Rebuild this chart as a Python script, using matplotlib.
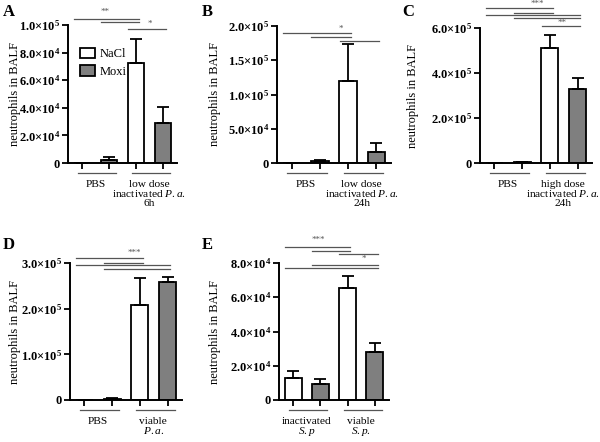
import matplotlib
matplotlib.use('Agg')
import matplotlib.pyplot as plt
from matplotlib.patches import Patch
import numpy as np

plt.rcParams['font.family'] = ['Liberation Serif', 'DejaVu Serif']
plt.rcParams['mathtext.fontset'] = 'custom'
plt.rcParams['mathtext.rm'] = 'Liberation Serif'
plt.rcParams['mathtext.it'] = 'Liberation Serif:italic'
plt.rcParams['mathtext.bf'] = 'Liberation Serif:bold'

# values: [first group, second group]
nacl_A = [0, 72500]
nacl_A_err = [0, 17500]
moxi_A = [2500, 29000]
moxi_A_err = [2000, 11600]

nacl_B = [0, 119700]
nacl_B_err = [0, 54000]
moxi_B = [2500, 16000]
moxi_B_err = [1500, 13200]

nacl_C = [0, 511000]
nacl_C_err = [0, 58000]
moxi_C = [4000, 329000]
moxi_C_err = [2000, 49000]

nacl_D = [0, 208000]
nacl_D_err = [0, 59000]
moxi_D = [2500, 258000]
moxi_D_err = [1500, 11000]

nacl_E = [12800, 65400]
nacl_E_err = [4100, 7000]
moxi_E = [9300, 28000]
moxi_E_err = [3000, 5300]

groups_A = ['PBS', 'low dose\ninactivated $\\mathit{P.a.}$\n6h']
groups_B = ['PBS', 'low dose\ninactivated $\\mathit{P.a.}$\n24h']
groups_C = ['PBS', 'high dose\ninactivated $\\mathit{P.a.}$\n24h']
groups_D = ['PBS', 'viable\n$\\mathit{P.a.}$']
groups_E = ['inactivated\n$\\mathit{S.p}$', 'viable\n$\\mathit{S.p.}$']

yticks_A = [0, 2e4, 4e4, 6e4, 8e4, 1e5]
yticks_B = [0, 5e4, 1e5, 1.5e5, 2e5]
yticks_C = [0, 2e5, 4e5, 6e5]
yticks_D = [0, 1e5, 2e5, 3e5]
yticks_E = [0, 2e4, 4e4, 6e4, 8e4]

# significant comparisons (bar i, bar j, height in px above top of axis)
comps_A = [(0, 2, 6), (1, 2, 3), (2, 3, -4)]
comps_B = [(0, 2, -7), (1, 2, -11), (2, 3, -15)]
comps_C = [(0, 2, 20), (1, 2, 15), (0, 3, 13), (1, 3, 10), (2, 3, 2)]
comps_D = [(0, 2, 5), (1, 2, 0), (0, 3, -2), (1, 3, -6)]
comps_E = [(0, 2, 16), (1, 2, 12), (2, 3, 9), (1, 3, -2), (0, 3, -5)]

stars_A = [('**', 0.87, 13), ('*', 2.53, 1)]
stars_B = [('*', 1.73, -3)]
stars_C = [('***', 1.55, 24), ('**', 2.43, 5)]
stars_D = [('***', 1.8, 10)]
stars_E = [('***', 0.94, 23), ('*', 2.6, 4)]

W, H = 600, 442
gray = '#7f7f7f'
linegray = '#555555'

fig = plt.figure(figsize=(6, 4.42), dpi=100)


def tick_label(v):
    if v == 0:
        return r'$\mathbf{0}$'
    e = int(np.floor(np.log10(v)))
    m = v / 10 ** e
    return r'$\mathbf{%.1f{\times}10^{%d}}$' % (m, e)


def panel(rect, letter, nacl, nacl_err, moxi, moxi_err, yticks, groups,
          comps, stars, legend=False):
    l, r, t, b, ylab_x, let_x, let_y = rect
    axh = b - t
    ax = fig.add_axes([l / W, 1 - b / H, (r - l) / W, axh / H])
    x = np.arange(4)
    vals = [nacl[0], moxi[0], nacl[1], moxi[1]]
    errs = [nacl_err[0], moxi_err[0], nacl_err[1], moxi_err[1]]
    cols = ['white', gray, 'white', gray]
    ax.bar(x, vals, width=0.62, color=cols, edgecolor='black', linewidth=1.3, zorder=2)
    ax.errorbar(x, vals, yerr=[np.zeros(4), errs], fmt='none', ecolor='black',
                elinewidth=1.3, capsize=4, capthick=1.3, zorder=3)
    ax.set_xlim(-0.52, 3.52)
    ax.set_ylim(0, yticks[-1])
    ax.set_yticks(yticks)
    ax.set_yticklabels([tick_label(v) for v in yticks])
    ax.set_xticks(x)
    ax.set_xticklabels([])
    for s in ['top', 'right']:
        ax.spines[s].set_visible(False)
    for s in ['left', 'bottom']:
        ax.spines[s].set_linewidth(1.4)
    ax.tick_params(direction='out', length=4, width=1.3, labelsize=9, pad=1.5)
    ax.set_ylabel('neutrophils in BALF', fontsize=9)
    ax.yaxis.set_label_coords((ylab_x - l) / (r - l), 0.5)

    tr = ax.get_xaxis_transform()
    # group lines and labels under the axis
    for g, lab in enumerate(groups):
        c = 2 * g + 0.5
        ax.plot([c - 0.65, c + 0.75], [-10 / axh] * 2, color=linegray, lw=0.9,
                transform=tr, clip_on=False)
        ax.annotate(lab, xy=(c - 0.02 * g, 0), xycoords=tr, xytext=(0, -12),
                    textcoords='offset points', ha='center', va='top',
                    fontsize=8.2, linespacing=0.95)
    # significance lines
    for i, j, dy in comps:
        yy = 1 + dy / axh
        ax.plot([i - 0.3, j + 0.1], [yy, yy], color=linegray, lw=0.9,
                transform=tr, clip_on=False)
    for txt, sx, dy in stars:
        ax.text(sx, 1 + dy / axh, txt, transform=tr, ha='center', va='center',
                fontsize=6.5, color=linegray)

    fig.text(let_x / W, 1 - let_y / H, letter, fontsize=12, fontweight='bold',
             ha='left', va='center')

    if legend:
        handles = [Patch(facecolor='white', edgecolor='black', linewidth=1.3),
                   Patch(facecolor=gray, edgecolor='black', linewidth=1.3)]
        ax.legend(handles, ['NaCl', 'Moxi'], loc='upper left',
                  bbox_to_anchor=(0.05, 0.88), frameon=False, fontsize=9,
                  handlelength=1.2, handleheight=0.9, borderpad=0,
                  handletextpad=0.4, labelspacing=0.4)
    return ax


# rect: left, right, top, bottom, ylabel x, letter x, letter y (pixels)
panel((68, 177, 25, 163, 21, 3, 12), 'A', nacl_A, nacl_A_err, moxi_A, moxi_A_err,
      yticks_A, groups_A, comps_A, stars_A, legend=True)
panel((277, 391, 26, 163, 221, 202, 12), 'B', nacl_B, nacl_B_err, moxi_B, moxi_B_err,
      yticks_B, groups_B, comps_B, stars_B)
panel((480, 592, 28, 163, 419, 402, 12), 'C', nacl_C, nacl_C_err, moxi_C, moxi_C_err,
      yticks_C, groups_C, comps_C, stars_C)
panel((70, 182, 263, 400, 21, 3, 245), 'D', nacl_D, nacl_D_err, moxi_D, moxi_D_err,
      yticks_D, groups_D, comps_D, stars_D)
panel((279, 389, 263, 400, 221, 202, 245), 'E', nacl_E, nacl_E_err, moxi_E, moxi_E_err,
      yticks_E, groups_E, comps_E, stars_E)

fig.savefig('out.png', dpi=100)
